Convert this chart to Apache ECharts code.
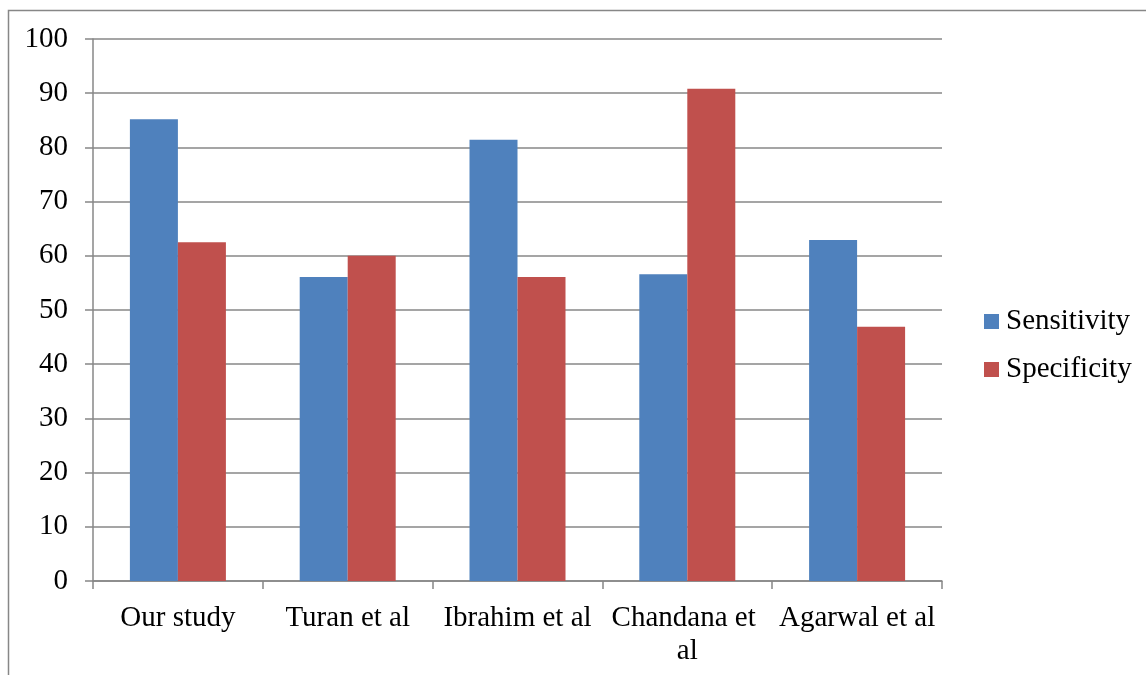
<!DOCTYPE html>
<html><head><meta charset="utf-8">
<script src="https://cdn.jsdelivr.net/npm/echarts@6/dist/echarts.min.js"></script>
<style>html,body{margin:0;padding:0;background:#fff}#c{width:1146px;height:675px}</style>
</head><body><div id="c"></div>
<script>
var categories = ['Our study', 'Turan et al', 'Ibrahim et al', 'Chandana et al', 'Agarwal et al'];
var sensitivity = [85.2, 56.1, 81.4, 56.6, 62.9];
var specificity = [62.5, 60.0, 56.1, 90.8, 46.9];
var yTicks = [0, 10, 20, 30, 40, 50, 60, 70, 80, 90, 100];

var font = 'Liberation Serif, Times New Roman, serif';
var gray = '#878787';
var chart = echarts.init(document.getElementById('c'));
chart.setOption({
  animation: false,
  backgroundColor: '#fff',
  graphic: [{
    type: 'rect', left: 6, top: 8, silent: true,
    shape: { x: 0.5, y: 0.5, width: 1200, height: 700 },
    style: { fill: 'none', stroke: gray, lineWidth: 1.5 }
  }],
  grid: { left: 93, right: 204, top: 39, bottom: 94, containLabel: false },
  legend: {
    orient: 'vertical', left: 979, top: 302, itemWidth: 15, itemHeight: 15, itemGap: 19,
    icon: 'rect',
    textStyle: { fontFamily: font, fontSize: 29, color: '#000', padding: [0, 0, 0, 2] },
    data: ['Sensitivity', 'Specificity']
  },
  xAxis: {
    type: 'category', data: categories,
    axisLine: { lineStyle: { color: gray, width: 1.5 } },
    axisTick: { show: true, length: 8, lineStyle: { color: gray, width: 1.5 } },
    axisLabel: { fontFamily: font, fontSize: 29, color: '#000', margin: 21, lineHeight: 33,
      width: 160, overflow: 'break', interval: 0 }
  },
  yAxis: {
    type: 'value', min: yTicks[0], max: yTicks[yTicks.length - 1], interval: 10,
    axisLine: { show: true, lineStyle: { color: gray, width: 1.5 } },
    axisTick: { show: true, length: 8, lineStyle: { color: gray, width: 1.5 } },
    splitLine: { lineStyle: { color: gray, width: 1.5 } },
    axisLabel: { fontFamily: font, fontSize: 29, color: '#000', margin: 25 }
  },
  series: [
    { name: 'Sensitivity', type: 'bar', data: sensitivity, barWidth: 48, barGap: '0%',
      itemStyle: { color: '#4F81BD' } },
    { name: 'Specificity', type: 'bar', data: specificity, barWidth: 48,
      itemStyle: { color: '#C0504D' } }
  ]
});
</script></body></html>
